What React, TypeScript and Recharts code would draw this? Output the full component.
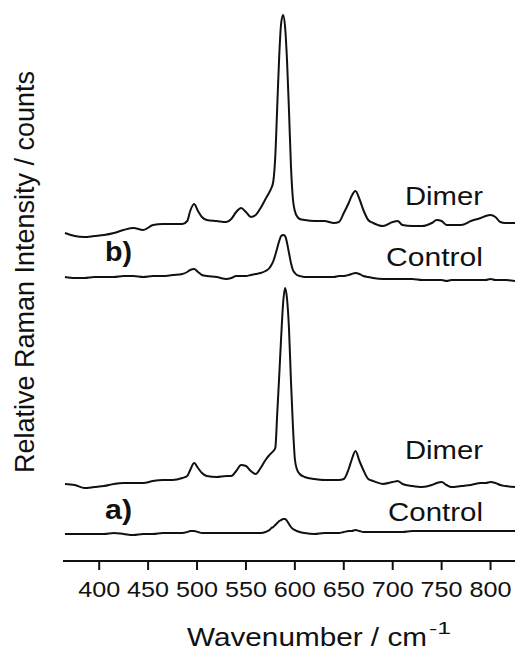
import React from 'react';
import { LineChart, Line, XAxis, YAxis } from 'recharts';

// wavenumber grid (cm-1), denser around the peaks
const WAVENUMBERS = [
  365, 375, 385, 395, 405, 415, 425, 435, 445, 455, 465, 475, 485,
  490, 493, 497, 501, 505, 510, 520, 530, 535, 540, 545, 550,
  555, 560, 565, 570, 574, 576, 578, 580, 582,
  584, 586, 588, 590, 592, 594, 596, 598, 600, 602, 605, 610,
  620, 630, 640, 645, 650, 655, 658, 662, 666, 670, 675, 680,
  690, 700, 705, 710, 720, 730, 740, 745, 750, 755,
  760, 770, 780, 790, 795, 800, 805, 810, 815, 825,
];

// stacked spectra (already offset)
const DIMER_B = [
  328, 325, 324, 325, 326, 328, 331, 333, 331, 336, 337, 337, 337,
  340, 350, 357, 350, 344, 341, 340, 339, 342, 349, 353, 349,
  344, 346, 353, 362, 369, 373, 380, 405, 455,
  505, 538, 546, 534, 500, 450, 395, 362, 350, 345, 342, 341,
  340, 340, 338, 339, 348, 358, 365, 370, 362, 351, 341, 338,
  335, 339, 340, 336, 335, 335, 338, 341, 340, 336,
  336, 336, 340, 343, 345, 346, 344, 339, 338, 338,
];

const CONTROL_B = [
  284, 283, 283, 284, 284, 284, 285, 285, 284, 285, 285, 286, 287,
  289, 291, 292, 289, 286, 285, 284, 282, 283, 285, 285, 285,
  286, 287, 288, 290, 293, 296, 300, 306, 313,
  320, 325, 326, 325, 318, 308, 298, 291, 288, 286, 285, 284,
  284, 284, 284, 285, 285, 286, 287, 288, 287, 285, 284, 283,
  282, 282, 282, 282, 282, 281, 281, 281, 281, 280,
  281, 281, 281, 281, 281, 282, 281, 281, 281, 280,
];

const DIMER_A = [
  77, 76, 73, 74, 75, 77, 78, 78, 78, 80, 81, 81, 83,
  85, 91, 98, 93, 88, 85, 84, 85, 85, 90, 96, 95,
  90, 87, 93, 101, 106, 108, 110, 113, 148,
  185, 224, 258, 273, 262, 232, 180, 135, 102, 92, 87, 84,
  82, 81, 81, 81, 82, 92, 101, 110, 100, 91, 82, 80,
  77, 79, 80, 77, 75, 74, 76, 78, 79, 76,
  74, 75, 76, 78, 78, 79, 78, 76, 75, 74,
];

const CONTROL_A = [
  27, 27, 27, 27, 27, 28, 27, 26, 27, 27, 28, 28, 28,
  29, 30, 30, 29, 28, 28, 28, 28, 28, 28, 28, 28,
  28, 28, 28, 29, 31, 33, 34, 36, 38,
  40, 41, 42, 42, 40, 37, 34, 32, 31, 30, 29, 28,
  27, 28, 28, 28, 29, 30, 30, 31, 30, 29, 29, 29,
  29, 29, 29, 29, 30, 30, 30, 30, 30, 30,
  30, 30, 30, 30, 30, 30, 30, 30, 30, 30,
];

const X_TICKS = [400, 450, 500, 550, 600, 650, 700, 750, 800];

const data = WAVENUMBERS.map((w, i) => ({
  w,
  dimerB: DIMER_B[i],
  controlB: CONTROL_B[i],
  dimerA: DIMER_A[i],
  controlA: CONTROL_A[i],
}));

const FONT = '"Liberation Sans", Arial, Helvetica, sans-serif';
const INK = '#111';

const XTick = (props: any) => {
  const { x, payload } = props;
  return (
    <text
      x={x}
      y={597}
      textAnchor="middle"
      fontFamily={FONT}
      fontSize={22}
      textLength={42}
      lengthAdjust="spacingAndGlyphs"
      fill={INK}
    >
      {payload.value}
    </text>
  );
};

const series = ['dimerB', 'controlB', 'dimerA', 'controlA'];

export default function App() {
  return (
    <div style={{ position: 'absolute', left: 0, top: 0, width: 515, height: 653, background: '#fff' }}>
      <LineChart
        width={515}
        height={653}
        data={data}
        margin={{ top: 5, right: 0, bottom: 62, left: 63 }}
      >
        <XAxis
          dataKey="w"
          type="number"
          domain={[363, 825]}
          ticks={X_TICKS}
          allowDataOverflow
          height={30}
          axisLine={{ stroke: INK, strokeWidth: 2 }}
          tickLine={{ stroke: INK, strokeWidth: 2 }}
          tickSize={9}
          tick={<XTick />}
        />
        <YAxis hide domain={[0, 556]} />
        {series.map((key) => (
          <Line
            key={key}
            dataKey={key}
            type="monotone"
            stroke={INK}
            strokeWidth={2}
            dot={false}
            isAnimationActive={false}
          />
        ))}
      </LineChart>

      <svg
        width={515}
        height={653}
        style={{ position: 'absolute', left: 0, top: 0, pointerEvents: 'none' }}
      >
        <g fontFamily={FONT} fill={INK}>
          <text x={405} y={205} fontSize={26} textLength={78} lengthAdjust="spacingAndGlyphs">Dimer</text>
          <text x={386} y={266} fontSize={26} textLength={97} lengthAdjust="spacingAndGlyphs">Control</text>
          <text x={105} y={261} fontSize={27} fontWeight="bold" textLength={27} lengthAdjust="spacingAndGlyphs">b)</text>
          <text x={405} y={459} fontSize={26} textLength={78} lengthAdjust="spacingAndGlyphs">Dimer</text>
          <text x={388} y={521} fontSize={26} textLength={95} lengthAdjust="spacingAndGlyphs">Control</text>
          <text x={105} y={519} fontSize={27} fontWeight="bold" textLength={27} lengthAdjust="spacingAndGlyphs">a)</text>

          <text x={187} y={646} fontSize={26} textLength={240} lengthAdjust="spacingAndGlyphs">Wavenumber / cm</text>
          <text x={429} y={634} fontSize={16} textLength={22} lengthAdjust="spacingAndGlyphs">-1</text>

          <text
            transform="translate(34, 272) rotate(-90)"
            textAnchor="middle"
            fontSize={27}
          >
            Relative Raman Intensity / counts
          </text>
        </g>
      </svg>
    </div>
  );
}
